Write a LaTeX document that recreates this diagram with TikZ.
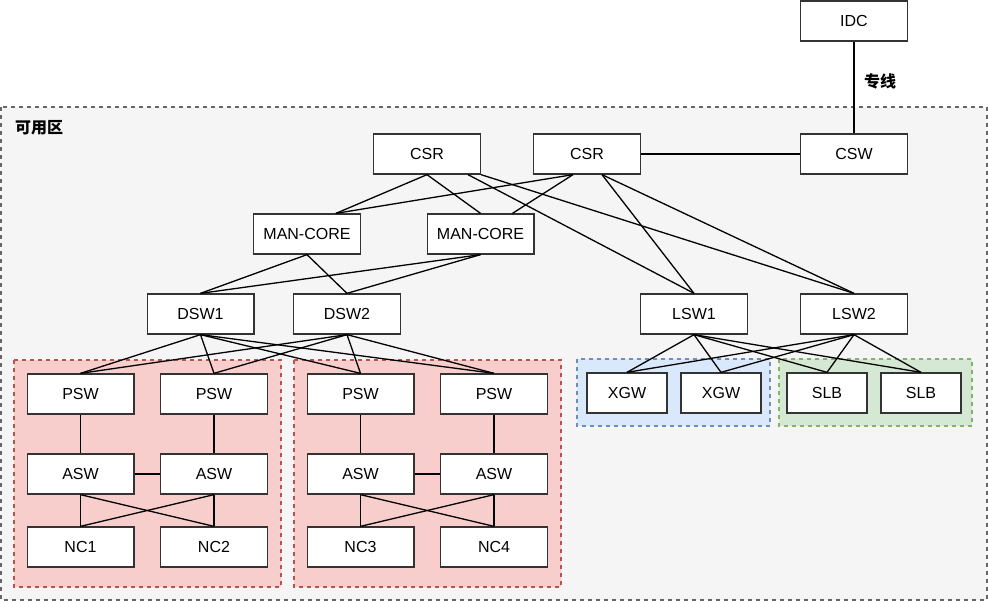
\documentclass[tikz,border=0pt]{standalone}
\usepackage{fontspec}
\setmainfont{Liberation Sans}
\newfontfamily\cjk{Noto Sans CJK SC}
\definecolor{zonefill}{HTML}{F5F5F5}
\definecolor{zoneline}{HTML}{666666}
\definecolor{redfill}{HTML}{F8CECC}
\definecolor{redline}{HTML}{B85450}
\definecolor{bluefill}{HTML}{DAE8FC}
\definecolor{blueline}{HTML}{6C8EBF}
\definecolor{greenfill}{HTML}{D5E8D4}
\definecolor{greenline}{HTML}{82B366}
\begin{document}
\begin{tikzpicture}[x=1pt,y=-1pt,
    dev/.style={draw=black!80,fill=white,line width=1.3pt,inner sep=0pt,
      minimum width=106.7pt,minimum height=40pt,font=\fontsize{16}{19}\selectfont},
    small/.style={dev,minimum width=80pt},
    group/.style={line width=1.2pt,dash pattern=on 4pt off 4pt},
    tag/.style={font=\cjk\bfseries\fontsize{16}{19}\selectfont,inner sep=0pt},
    link/.style={line width=1.3pt}]
  \useasboundingbox (0,0) rectangle (988,601);
  % zone and groups
  \draw[group,draw=zoneline,fill=zonefill] (1,107) rectangle (987,600);
  \draw[group,draw=redline,fill=redfill] (14,360) rectangle (281,587);
  \draw[group,draw=redline,fill=redfill] (294,360) rectangle (561,587);
  \draw[group,draw=blueline,fill=bluefill] (577,359) rectangle (770,426);
  \draw[group,draw=greenline,fill=greenfill] (779,359) rectangle (972,426);
  \node[tag,anchor=west] (zone) at (15,128) {可用区};
  \node[tag] (line) at (880,81) {专线};
  % devices
  \path
    (854,21) node[dev] (idc){IDC}
    (854,154) node[dev] (csw){CSW}
    (427,154) node[dev] (csr1){CSR}
    (587,154) node[dev] (csr2){CSR}
    (307,234) node[dev] (mc1){MAN-CORE}
    (480.5,234) node[dev] (mc2){MAN-CORE}
    (200.5,314) node[dev] (dsw1){DSW1}
    (347,314) node[dev] (dsw2){DSW2}
    (694,314) node[dev] (lsw1){LSW1}
    (854,314) node[dev] (lsw2){LSW2}
    (80.5,394) node[dev] (psw1){PSW}
    (214,394) node[dev] (psw2){PSW}
    (360.5,394) node[dev] (psw3){PSW}
    (494,394) node[dev] (psw4){PSW}
    (80.5,474) node[dev] (asw1){ASW}
    (214,474) node[dev] (asw2){ASW}
    (360.5,474) node[dev] (asw3){ASW}
    (494,474) node[dev] (asw4){ASW}
    (80.5,547) node[dev] (nc1){NC1}
    (214,547) node[dev] (nc2){NC2}
    (360.5,547) node[dev] (nc3){NC3}
    (494,547) node[dev] (nc4){NC4}
    (627,393) node[small] (xgw1){XGW}
    (721,393) node[small] (xgw2){XGW}
    (827,393) node[small] (slb1){SLB}
    (921,393) node[small] (slb2){SLB};
  \begin{scope}[link]
    \draw (idc) to (csw);
    \draw (csr2) to (csw);
    \draw (csr1.south) to ([xshift=29pt]mc1.north);
    \draw (csr1.south) to (mc2.north);
    \draw ([xshift=-14pt]csr2.south) to ([xshift=29pt]mc1.north);
    \draw ([xshift=-14pt]csr2.south) to ([xshift=32pt]mc2.north);
    \draw ([xshift=41pt]csr1.south) to (lsw1.north);
    \draw (csr1.south east) to (lsw2.north);
    \draw ([xshift=15pt]csr2.south) to (lsw1.north);
    \draw ([xshift=15pt]csr2.south) to (lsw2.north);
    \foreach \m in {mc1,mc2}
      \foreach \d in {dsw1,dsw2}
        \draw (\m.south) to (\d.north);
    \foreach \d in {dsw1,dsw2}
      \foreach \p in {psw1,psw2,psw3,psw4}
        \draw (\d.south) to (\p.north);
    \foreach \l in {lsw1,lsw2}
      \foreach \x in {xgw1,xgw2,slb1,slb2}
        \draw (\l.south) to (\x.north);
    \foreach \i in {1,2,3,4}
      \draw (psw\i) to (asw\i);
    \draw (asw1) to (asw2);
    \draw (asw3) to (asw4);
    \foreach \a in {1,2}
      \foreach \n in {1,2}
        \draw (asw\a.south) to (nc\n.north);
    \foreach \a in {3,4}
      \foreach \n in {3,4}
        \draw (asw\a.south) to (nc\n.north);
  \end{scope}
\end{tikzpicture}
\end{document}
